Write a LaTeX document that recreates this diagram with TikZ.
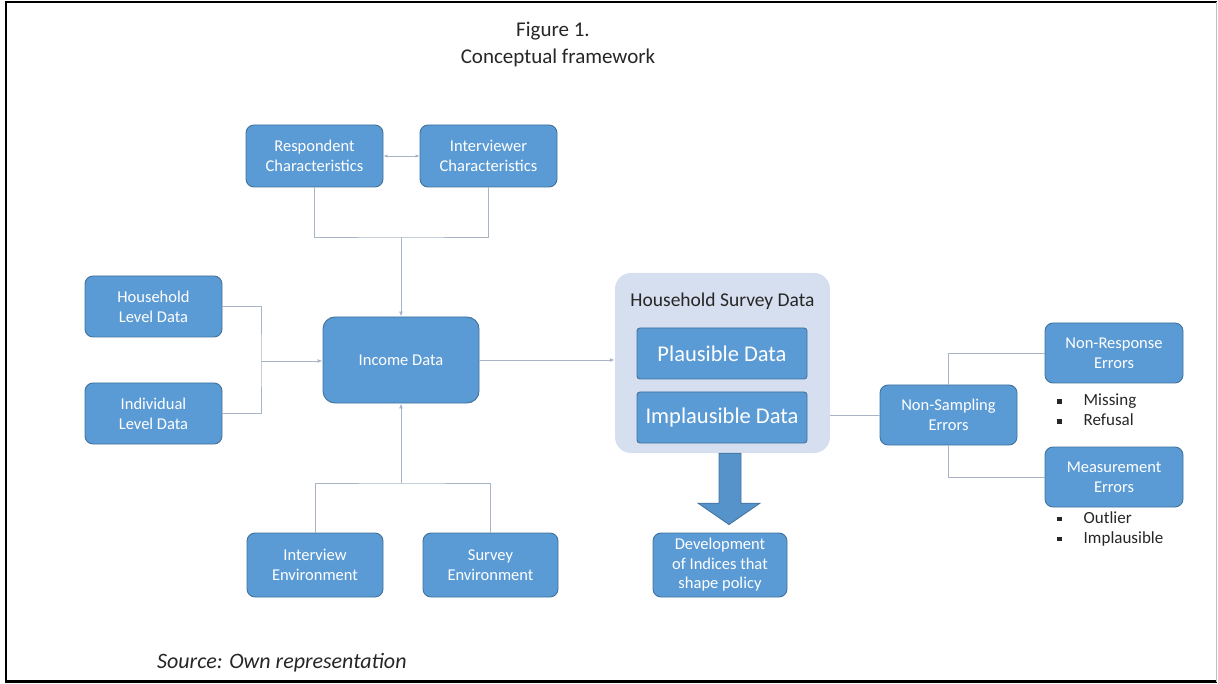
\documentclass[tikz,border=0pt]{standalone}
\usepackage{fontspec}
\setmainfont{Carlito}
\usetikzlibrary{arrows.meta,calc}
\definecolor{boxblue}{HTML}{5B9BD5}
\definecolor{boxedge}{HTML}{41719C}
\definecolor{panelblue}{HTML}{D6DFEF}
\definecolor{linkgray}{HTML}{A9B5C6}
\definecolor{inkgray}{HTML}{262626}
\begin{document}
\begin{tikzpicture}[x=1pt,y=-1pt,
    box/.style={draw=boxedge, line width=0.9pt, fill=boxblue, rounded corners=8pt,
      text=white, align=center, inner sep=0pt, minimum width=137pt, minimum height=62pt,
      font=\fontsize{16.5}{20}\selectfont},
    databox/.style={box, rounded corners=3pt, minimum width=170pt, minimum height=51pt,
      font=\fontsize{22.5}{26}\selectfont},
    panel/.style={fill=panelblue, rounded corners=16pt, inner sep=0pt,
      minimum width=215pt, minimum height=180pt},
    link/.style={draw=linkgray, line width=0.9pt},
    linkarrow/.style={link, -{Latex[length=5pt,width=4pt]}},
    plain/.style={text=inkgray, inner sep=0pt}]
  \useasboundingbox (0,0) rectangle (1218,684);
  \draw [black, line width=2.5pt] (1216.5,681.5) -- (6,681.5) -- (6,2) -- (1216.5,2);
  \draw [black!25, line width=1pt] (1216.5,2) -- (1216.5,681.5);
  \node [plain, font=\fontsize{21}{26}\selectfont] (title) at (553,31) {Figure 1.};
  \node [plain, font=\fontsize{21}{26}\selectfont] (subtitle) at (558,58) {Conceptual framework};
  \node [plain, anchor=west, font=\fontsize{22}{26}\selectfont\itshape] (source) at (157,663) {Source: Own representation};
  \node [box] (resp) at (314.5,156) {Respondent\\Characteristics};
  \node [box] (inter) at (488.5,156) {Interviewer\\Characteristics};
  \node [box, minimum height=61pt] (hhlevel) at (153.5,306.5) {Household\\Level Data};
  \node [box, minimum height=61pt] (indlevel) at (153.5,413.5) {Individual\\Level Data};
  \node [box, minimum width=156pt, minimum height=86pt, rounded corners=12pt] (income) at (401,360) {Income Data};
  \node [box, minimum width=136pt, minimum height=64pt] (intenv) at (315,565) {Interview\\Environment};
  \node [box, minimum width=135pt, minimum height=64pt] (survenv) at (490.5,565) {Survey\\Environment};
  \node [panel] (hsd) at (722.5,363) {};
  \node [plain, font=\fontsize{19.5}{24}\selectfont] (hsdlabel) at (722.5,301) {Household Survey Data};
  \node [databox] (plausible) at (722,353.5) {Plausible Data};
  \node [databox] (implausible) at (722,417.5) {Implausible Data};
  \node [box, minimum width=134pt, minimum height=64pt, font=\fontsize{16.5}{19.5}\selectfont] (devel) at (720,565) {Development\\of Indices that\\shape policy};
  \node [box, minimum height=60pt] (nonsampling) at (948.5,415) {Non-Sampling\\Errors};
  \node [box, minimum width=138pt, minimum height=60pt] (nonresponse) at (1114,353) {Non-Response\\Errors};
  \node [box, minimum width=138pt, minimum height=60pt] (measurement) at (1114,477) {Measurement\\Errors};
  \node [plain, anchor=north west, align=left, font=\fontsize{17}{20}\selectfont] (resplist) at (1057,394)
    {\rule[2pt]{4.5pt}{4.5pt}\hspace{22pt}Missing\\\rule[2pt]{4.5pt}{4.5pt}\hspace{22pt}Refusal};
  \node [plain, anchor=north west, align=left, font=\fontsize{17}{20}\selectfont] (measlist) at (1057,511)
    {\rule[2pt]{4.5pt}{4.5pt}\hspace{22pt}Outlier\\\rule[2pt]{4.5pt}{4.5pt}\hspace{22pt}Implausible};
  \coordinate (topjoin) at (401,237);
  \coordinate (leftjoin) at (261,361);
  \coordinate (bottomjoin) at (401,483);
  \draw [link, {Latex[length=4pt,width=3.5pt]}-{Latex[length=4pt,width=3.5pt]}] (resp) -- (inter);
  \draw [link] (resp.south) |- (topjoin) -| (inter.south);
  \draw [linkarrow] (topjoin) -- (income.north);
  \draw [link] (hhlevel.east) -| (leftjoin) |- (indlevel.east);
  \draw [linkarrow] (leftjoin) -- (leftjoin -| income.west);
  \draw [link] (intenv.north) |- (bottomjoin) -| (survenv.north);
  \draw [linkarrow] (bottomjoin) -- (income.south);
  \draw [linkarrow] (income.east) -- (income.east -| hsd.west);
  \draw [link] (nonsampling.west -| hsd.east) -- (nonsampling.west);
  \draw [link] (nonsampling.north) |- (nonresponse.west);
  \draw [link] (nonsampling.south) |- (measurement.west);
  \draw [fill=boxblue!95!black, draw=boxedge, line width=0.8pt]
    ($(hsd.south)+(-3.5,0)$) -- ($(hsd.south)+(18.5,0)$) -- ($(hsd.south)+(18.5,50)$)
    -- ($(hsd.south)+(37.5,50)$) -- ($(devel.north)+(9,-8)$) -- ($(hsd.south)+(-24.5,50)$)
    -- ($(hsd.south)+(-3.5,50)$) -- cycle;
\end{tikzpicture}
\end{document}
